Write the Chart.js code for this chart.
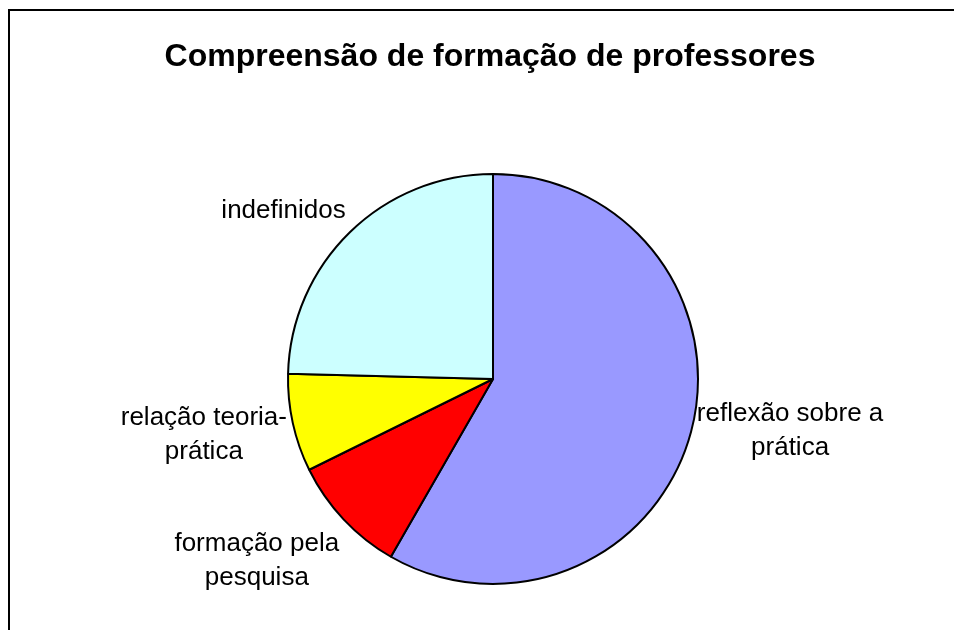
<!DOCTYPE html>
<html>
<head>
<meta charset="utf-8">
<script src="https://cdn.jsdelivr.net/npm/chart.js@4"></script>
<style>
    html, body { margin: 0; padding: 0; background: #fff; }
    .wrap { position: relative; width: 954px; height: 630px; overflow: hidden; }
    .frame {
        position: absolute; left: 8px; top: 9px; width: 1000px; height: 700px;
        border-left: 2px solid #000; border-top: 2px solid #000;
    }
    canvas { position: absolute; left: 0; top: 0; }
</style>
</head>
<body>
<div class="wrap">
    <div class="frame"></div>
    <canvas id="pie" width="954" height="630"></canvas>
</div>
<script>
/* ===== DATA ===== */
const chartTitle = 'Compreensão de formação de professores';
const categories = [
    ['reflexão sobre a', 'prática'],
    ['formação pela', 'pesquisa'],
    ['relação teoria-', 'prática'],
    ['indefinidos']
];
const shares = [58.3, 9.4, 7.7, 24.6];
const sliceColors = ['#9999FF', '#FF0000', '#FFFF00', '#CCFFFF'];

const FONT = '"Liberation Sans", Arial, sans-serif';

/* ===== TITLE ===== */
const titlePlugin = {
    id: 'excelTitle',
    afterDraw(chart) {
        const ctx = chart.ctx;
        ctx.save();
        ctx.font = 'bold 32px ' + FONT;
        ctx.fillStyle = '#000';
        ctx.textAlign = 'center';
        ctx.textBaseline = 'alphabetic';
        ctx.fillText(chartTitle, 490, 66);
        ctx.restore();
    }
};

/* ===== OUTSIDE LABELS (placed from each arc) ===== */
const labelPlugin = {
    id: 'outsideLabels',
    afterDatasetsDraw(chart) {
        const ctx = chart.ctx;
        const meta = chart.getDatasetMeta(0);
        const lineH = 34;
        const gap = 6;
        ctx.save();
        ctx.font = '26px ' + FONT;
        ctx.fillStyle = '#000';
        ctx.textAlign = 'center';
        ctx.textBaseline = 'middle';
        meta.data.forEach((arc, i) => {
            const p = arc.getProps(['x', 'y', 'startAngle', 'endAngle', 'outerRadius'], true);
            const mid = (p.startAngle + p.endAngle) / 2;
            const dx = Math.cos(mid), dy = Math.sin(mid);
            const ax = p.x + (p.outerRadius + gap) * dx;
            const ay = p.y + (p.outerRadius + gap) * dy;
            const lines = chart.data.labels[i];
            const w = Math.max(...lines.map(l => ctx.measureText(l).width));
            const h = lines.length * lineH;
            const left = dx >= 0 ? ax : ax - w;
            let top;
            if (dy > 0.5) top = ay + 3;
            else if (dy < -0.5) top = ay - h;
            else if (dx < 0) top = ay - h / 2 + 10;
            else top = ay - h / 2 - 3;
            lines.forEach((l, k) => {
                ctx.fillText(l, left + w / 2, top + lineH * (k + 0.5));
            });
        });
        ctx.restore();
    }
};

new Chart(document.getElementById('pie'), {
    type: 'pie',
    data: {
        labels: categories,
        datasets: [{
            data: shares,
            backgroundColor: sliceColors,
            borderColor: '#000',
            borderWidth: 2
        }]
    },
    options: {
        responsive: false,
        animation: false,
        events: [],
        layout: { padding: { top: 173, bottom: 45, left: 287, right: 255 } },
        plugins: {
            legend: { display: false },
            tooltip: { enabled: false },
            title: { display: false }
        }
    },
    plugins: [labelPlugin, titlePlugin]
});
</script>
</body>
</html>
